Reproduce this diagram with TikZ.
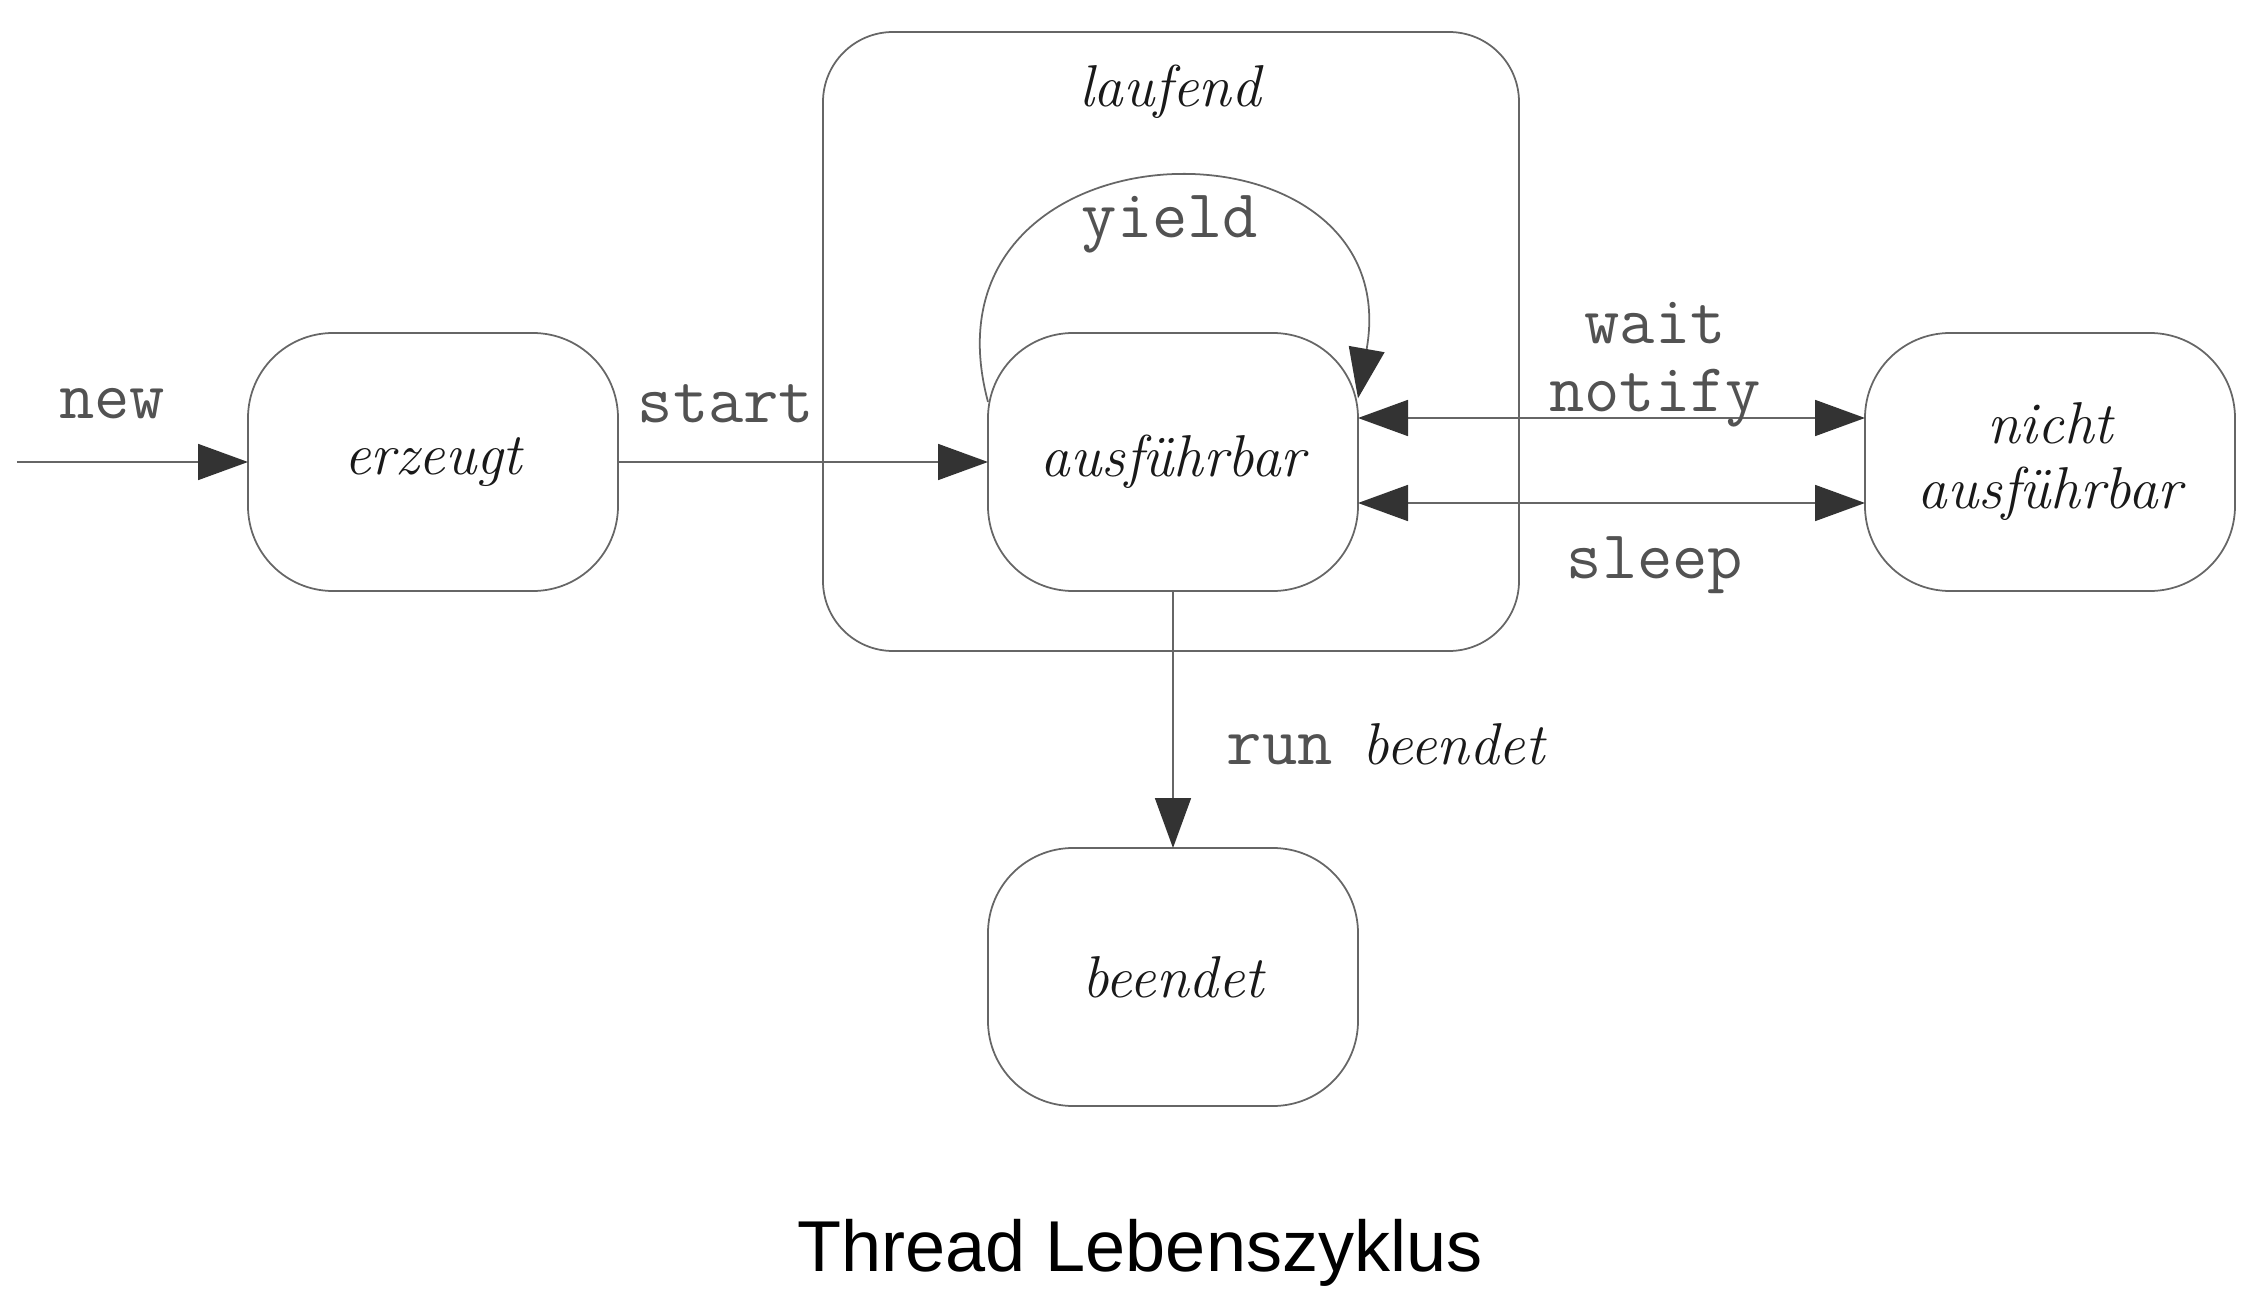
\documentclass[tikz,border=0pt]{standalone}
\usepackage{fontspec}
\newfontfamily\titelfont{Liberation Sans}
\usetikzlibrary{arrows.meta}

\begin{document}
\begin{tikzpicture}[x=1cm, y=1cm, >={Triangle[length=5mm, width=3.6mm, color=black!80]}, line width=0.5pt,
	zustand/.style={draw=black!60, rounded corners=0.85cm, minimum width=3.7cm, minimum height=2.58cm, inner sep=0pt, outer sep=0pt, align=center, text=black!90, font=\fontsize{16.8}{18.5}\selectfont\itshape},
	huelle/.style={draw=black!60, rounded corners=0.7cm, minimum width=6.96cm, minimum height=6.19cm, inner sep=0pt, outer sep=0pt},
	befehl/.style={inner sep=0pt, text=black!68, font=\fontsize{19.5}{19.3}\selectfont\ttfamily},
	kursiv/.style={inner sep=0pt, text=black!90, font=\fontsize{16.8}{19}\selectfont\itshape},
	pfeil/.style={draw=black!60}]
	
	\useasboundingbox (0,0) rectangle (22.53,13.15);
	
	% ================= Zustaende =================
	\node[huelle] (lauf) at (11.71,9.735) {};
	\node[kursiv] (lauftext) at (11.70,12.23) {laufend};
	
	\node[zustand] (erzeugt) at (4.33,8.53) {erzeugt};
	\node[zustand] (ausf) at (11.73,8.53) {ausführbar};
	\node[zustand] (nicht) at (20.50,8.53) {nicht\\ausführbar};
	\node[zustand] (beendet) at (11.73,3.38) {beendet};
	
	% ================= Uebergaenge =================
	\coordinate (neu) at (0.17,8.53);
	\draw[pfeil, ->] (neu) -- (erzeugt.west);
	\node[befehl] (newlbl) at (1.12,9.11) {new};
	
	\draw[pfeil, ->] (erzeugt.east) -- (ausf.west);
	\node[befehl] (startlbl) at (7.26,9.11) {start};
	
	% yield: Schleife ueber ausfuehrbar
	\draw[pfeil, ->] (ausf.162) .. controls +(105:3.0) and +(80:3.0) .. (ausf.19);
	\node[befehl] (yieldlbl) at (11.70,10.91) {yield};
	
	% wait / notify und sleep
	\draw[pfeil, <->] ([yshift=0.44cm]ausf.east) -- ([yshift=0.44cm]nicht.west);
	\node[befehl, align=center] (waitlbl) at (16.55,9.50) {wait\\notify};
	
	\draw[pfeil, <->] ([yshift=-0.41cm]ausf.east) -- ([yshift=-0.41cm]nicht.west);
	\node[befehl] (sleeplbl) at (16.55,7.50) {sleep};
	
	% run beendet
	\draw[pfeil, ->] (ausf.south) -- (beendet.north);
	\node[befehl, anchor=west] (runlbl) at (12.26,5.71) {run\hspace{0.3cm}\textrm{\itshape\fontsize{16.8}{19}\selectfont\color{black!90}beendet}};
	
	% ================= Titel =================
	\node[font=\titelfont\fontsize{20.5}{24}\selectfont] (titel) at (11.40,0.62) {Thread Lebenszyklus};
	
\end{tikzpicture}
\end{document}
